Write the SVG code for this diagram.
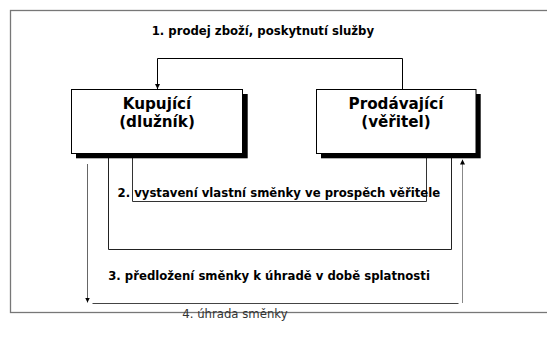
<svg xmlns="http://www.w3.org/2000/svg" width="547" height="354" viewBox="0 0 547 354">
<style>
  text { font-family: "DejaVu Sans", Verdana, sans-serif; fill: #000; }
  .lbl { font-size: 11.7px; font-weight: bold; }
  .lbl4 { font-size: 11.7px; font-weight: normal; fill: #333; }
  .node { font-size: 15.2px; font-weight: bold; text-anchor: middle; }
  .box { fill: #fff; stroke: #000; stroke-width: 1; }
  .shadow { fill: #000; stroke: none; }
  .frame { fill: none; stroke: #777; stroke-width: 1.3; }
  .conn { fill: none; stroke-width: 1; }
</style>
<defs>
  <marker id="arr" markerUnits="userSpaceOnUse" markerWidth="5" markerHeight="5" refX="5" refY="2.5" orient="auto">
    <path d="M0,0 L5,2.5 L0,5 z" fill="#000"/>
  </marker>
</defs>
<rect class="frame" x="10.5" y="10.5" width="560" height="302"/>
<g id="connectors">
  <path class="conn" stroke="#000" d="M402.5,89 V58.5 H157.5 V89" marker-end="url(#arr)"/>
  <path class="conn" stroke="#222" d="M108.5,158 V249.5 H451.5 V158"/>
  <path class="conn" stroke="#333" d="M132.5,158 V201.5 H426.5 V158"/>
  <path class="conn" stroke="#666" d="M87.5,164 V302.5" marker-end="url(#arr)"/>
  <path class="conn" stroke="#444" d="M92.5,303.5 H458.5"/>
  <path class="conn" stroke="#888" d="M462.5,303 V159.5" marker-end="url(#arr)"/>
</g>
<g id="node-kupujici">
  <rect class="shadow" x="76" y="94" width="171.7" height="64.3"/>
  <rect class="box" x="71.5" y="89.5" width="171" height="64"/>
  <text class="node" x="157" y="109">Kupující</text>
  <text class="node" x="157" y="127">(dlužník)</text>
</g>
<g id="node-prodavajici">
  <rect class="shadow" x="321" y="94" width="159.7" height="64.3"/>
  <rect class="box" x="316.5" y="89.5" width="159.5" height="64"/>
  <text class="node" x="396" y="109">Prodávající</text>
  <text class="node" x="396" y="127">(věřitel)</text>
</g>
<g id="labels">
  <text class="lbl" x="151.7" y="35">1. prodej zboží, poskytnutí služby</text>
  <text class="lbl" x="117.5" y="197.3">2. vystavení vlastní směnky ve prospěch věřitele</text>
  <text class="lbl" x="108.2" y="279.5">3. předložení směnky k úhradě v době splatnosti</text>
  <text class="lbl4" x="182.3" y="317.7">4. úhrada směnky</text>
</g>
</svg>
